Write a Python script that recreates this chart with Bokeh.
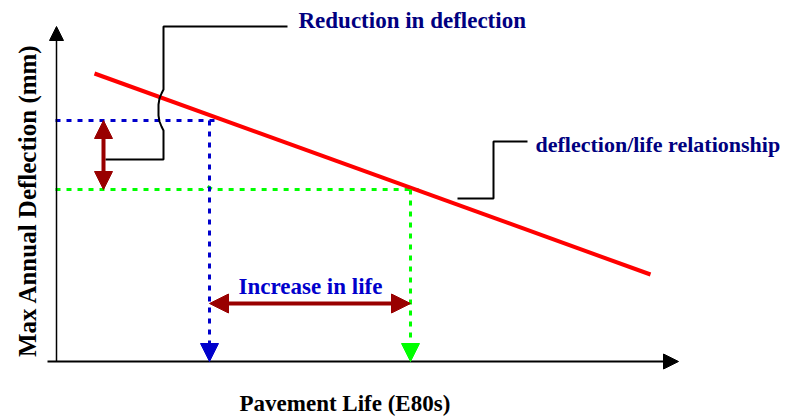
from bokeh.plotting import figure
from bokeh.models import Range1d, Arrow, NormalHead
from bokeh.core.properties import value
from bokeh.embed import file_html
from bokeh.resources import INLINE

# ---- schematic data (units: drawing units, origin at the axes corner) ----
relationship_x = [38, 594]          # pavement life along the deflection/life line
relationship_y = [288, 87]          # max annual deflection along the line
life_before, life_after = 153, 354          # pavement life before / after
defl_before, defl_after = 241, 172          # deflection before / after
axis_x_end, axis_y_end = 622, 335
axis_x_start = -9

blue_h_x = [-1, 162]
green_h_x = [-1, 146, 150, 156, 362]
green_h_y = [defl_after, defl_after, defl_after + 4, defl_after, defl_after]

reduction_arrow_x = 47
increase_arrow_y = 58

reduction_callout_x = [49, 107, 107, 105, 103, 102, 102, 103, 105, 107, 107, 231]
reduction_callout_y = [202, 202, 231, 235, 240, 246, 257, 263, 268, 272, 335, 335]
relation_callout_x = [401, 437, 437, 471]
relation_callout_y = [163, 163, 220, 220]

labels = ["Reduction in deflection", "deflection/life relationship", "Increase in life"]
label_x = [242, 479, 182]
label_y = [341, 217, 75]
label_size = ["23px", "22px", "23px"]
x_title = "Pavement Life (E80s)"
y_title = "Max Annual Deflection (mm)"

FONT = value("Liberation Serif")
NAVY = "#000080"
BLUE = "#0000CC"
DARKRED = "#990000"
GREEN = "#00FF00"

p = figure(width=794, height=419, x_range=Range1d(-56, 738), y_range=Range1d(-58, 361),
           x_axis_type=None, y_axis_type=None, output_backend="svg",
           toolbar_location=None, min_border=0)
p.grid.visible = False
p.outline_line_color = None
p.background_fill_color = "white"

# axes with arrow heads
p.add_layout(Arrow(end=NormalHead(size=15, fill_color="black", line_color="black"),
                   x_start=axis_x_start, y_start=0, x_end=axis_x_end, y_end=0,
                   line_color="black", line_width=2))
p.add_layout(Arrow(end=NormalHead(size=14, fill_color="black", line_color="black"),
                   x_start=0, y_start=0, x_end=0, y_end=axis_y_end,
                   line_color="black", line_width=1.5))

# dotted guide lines
p.line(blue_h_x, [defl_before, defl_before], line_color=BLUE, line_width=3, line_dash="5 6")
p.line(green_h_x, green_h_y, line_color=GREEN, line_width=3, line_dash="5 6")
p.add_layout(Arrow(end=NormalHead(size=18, fill_color=BLUE, line_color=BLUE),
                   x_start=life_before, y_start=defl_before, x_end=life_before, y_end=0,
                   line_color=BLUE, line_width=3, line_dash="5 6"))
p.add_layout(Arrow(end=NormalHead(size=18, fill_color=GREEN, line_color=GREEN),
                   x_start=life_after, y_start=defl_after, x_end=life_after, y_end=0,
                   line_color=GREEN, line_width=3, line_dash="5 6"))

# deflection/life relationship
p.line(relationship_x, relationship_y, line_color="#FF0000", line_width=4)

# double arrows
p.add_layout(Arrow(start=NormalHead(size=18, fill_color=DARKRED, line_color=DARKRED),
                   end=NormalHead(size=18, fill_color=DARKRED, line_color=DARKRED),
                   x_start=reduction_arrow_x, y_start=defl_before,
                   x_end=reduction_arrow_x, y_end=defl_after,
                   line_color=DARKRED, line_width=4))
p.add_layout(Arrow(start=NormalHead(size=19, fill_color=DARKRED, line_color=DARKRED),
                   end=NormalHead(size=19, fill_color=DARKRED, line_color=DARKRED),
                   x_start=life_before, y_start=increase_arrow_y,
                   x_end=life_after, y_end=increase_arrow_y,
                   line_color=DARKRED, line_width=4))

# callout lines
p.line(reduction_callout_x, reduction_callout_y, line_color="black", line_width=2)
p.line(relation_callout_x, relation_callout_y, line_color="black", line_width=2)

# texts
label_colors = [NAVY, NAVY, BLUE]
for lx, ly, lt, lc, ls in zip(label_x, label_y, labels, label_colors, label_size):
    p.text(x=[lx], y=[ly], text=[lt], text_color=lc,
           text_font=FONT, text_font_style="bold", text_font_size=ls,
           text_align="left", text_baseline="alphabetic")
p.text(x=[183], y=[-42], text=[x_title], text_color="black",
       text_font=FONT, text_font_style="bold", text_font_size="23px",
       text_align="left", text_baseline="alphabetic")
p.text(x=[-29], y=[161], text=[y_title], text_color="black", angle=1.5708,
       text_font=FONT, text_font_style="bold", text_font_size="25px",
       text_align="center", text_baseline="alphabetic")

open("out.html", "w").write(file_html(p, INLINE))
